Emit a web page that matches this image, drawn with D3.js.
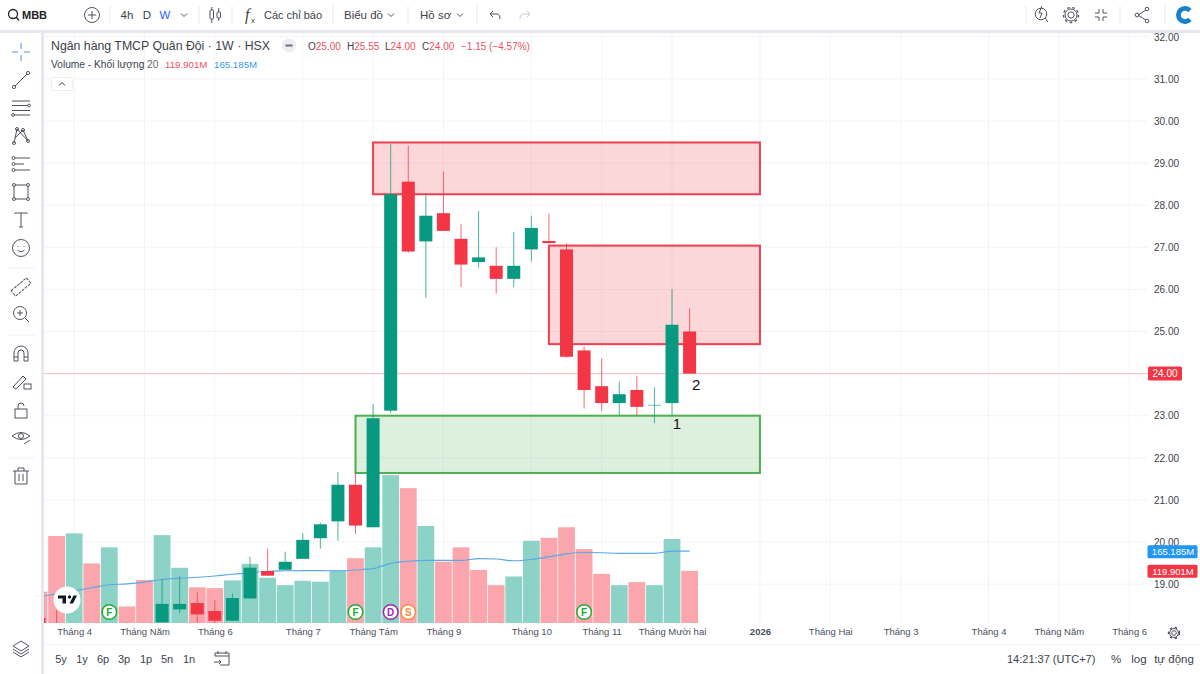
<!DOCTYPE html>
<html><head><meta charset="utf-8">
<script src="https://cdn.jsdelivr.net/npm/d3@7/dist/d3.min.js"></script>
<style>html,body{margin:0;padding:0;background:#fff;overflow:hidden}svg{display:block;font-family:"Liberation Sans",Arial,sans-serif}</style>
</head><body><svg id="c" width="1200" height="674"></svg>
<script>
// ---- data (week index -1 .. 36 ; null = below the visible pane) ----
const weeks  = d3.range(-1,37);
const opens  = [18.2,17.9,null,null,null,null,null,18.09,18.4,18.55,18.36,18.13,18.66,19.31,19.34,19.6,20.09,20.49,21.36,20.35,23.12,28.56,27.14,27.81,27.2,26.65,26.56,26.25,26.95,27.15,26.95,24.55,23.7,23.3,23.61,23.25,23.3,25.0];
const highs  = [18.3,18.38,null,null,null,null,null,19.12,19.2,18.8,18.62,18.78,19.65,19.84,19.77,20.21,20.46,21.66,21.65,23.28,29.45,29.41,28.28,28.8,27.55,27.86,27.0,27.36,27.75,27.8,27.1,24.64,24.36,23.81,23.95,23.67,26.01,25.55];
const lows   = [17.8,17.5,null,null,null,null,null,18.09,18.31,18.09,18.05,18.13,18.66,19.2,19.34,19.6,19.84,20.03,20.19,20.35,23.07,26.87,25.8,27.39,26.05,26.52,25.9,26.05,26.66,27.1,24.38,23.17,23.11,23.01,23.01,22.82,23.01,24.0];
const closes = [17.9,17.6,null,null,null,null,null,18.53,18.53,18.28,18.13,18.67,19.39,19.2,19.53,20.05,20.42,21.36,20.39,22.94,28.26,26.9,27.75,27.39,26.59,26.76,26.25,26.56,27.46,27.1,24.4,23.61,23.3,23.51,23.21,23.26,25.16,24.0];
const volumes= [72,200,206,137,174,38,99,202,127,82,80,98,136,104,87,97,95,120,149,174,340,310,223,141,174,122,87,107,189,196,220,170,113,87,94,87,193,119.9];
const volUp  = [0,0,1,0,1,0,0,1,1,0,0,1,1,1,1,1,1,1,0,1,1,0,1,0,0,0,0,1,1,0,0,0,0,1,0,1,1,0];
const volMA  = [60,67,74,81,88,90,94,100,103,105,108,112,115,119,120,120.5,120.5,120,122,125,137,142,144,144,144,148,147,143,146,152,159,162,161.5,160,160,160,165.185,165.185];
const priceTicks = d3.range(19,33);
const timeTicks  = [1,5,9,14,18,22,27,31,35,40,44,48,53,57,61];
const timeLabels = ["Tháng 4","Tháng Năm","Tháng 6","Tháng 7","Tháng Tám","Tháng 9","Tháng 10","Tháng 11","Tháng Mười hai","2026","Tháng Hai","Tháng 3","Tháng 4","Tháng Năm","Tháng 6"];
const zoneStart = [18,28,17], zoneEnd = [40,40,40], zoneTop = [29.49,27.04,23.0], zoneBottom = [28.26,24.7,21.64], zoneKind = ["r","r","g"];
const eventWeek = [3,17,19,20,30], eventLetter = ["F","F","D","S","F"], eventColor = ["#22ab35","#22ab35","#9c27b0","#ff8a3d","#22ab35"];
const lastClose = 24.0;

const svg = d3.select("#c");
const UP="#089981", DN="#f23645";
const x = d3.scaleLinear().domain([0,36]).range([56.6,689.6]);
const y = d3.scaleLinear().domain([19,32]).range([584.1,36.8]);
const yV= d3.scaleLinear().domain([0,400]).range([623,449]);
const step = x(1)-x(0);

svg.append("defs").append("clipPath").attr("id","pane").append("rect").attr("x",44).attr("y",33).attr("width",1104).attr("height",590);

// grid
const pane = svg.append("g").attr("clip-path","url(#pane)");
pane.selectAll("line.h").data(priceTicks).join("line").attr("x1",44).attr("x2",1148).attr("y1",d=>y(d)).attr("y2",d=>y(d)).attr("stroke","#f3f4f7");
pane.selectAll("line.v").data(timeTicks).join("line").attr("x1",d=>x(d)).attr("x2",d=>x(d)).attr("y1",33).attr("y2",623).attr("stroke","#f3f4f7");

// volume
pane.selectAll("rect.vol").data(weeks).join("rect").attr("x",d=>x(d)-step/2+.4).attr("width",step-.8)
  .attr("y",(d,i)=>yV(volumes[i])).attr("height",(d,i)=>yV(0)-yV(volumes[i]))
  .attr("fill",(d,i)=>volUp[i]?"#8dd2c6":"#fba6ad");
pane.append("path").attr("fill","none").attr("stroke","#5aa9e6").attr("stroke-width",1.1)
  .attr("d",d3.line().x((d,i)=>x(weeks[i])).y(d=>yV(d)).curve(d3.curveMonotoneX)(volMA));

// zones
pane.selectAll("rect.zone").data(zoneStart).join("rect")
  .attr("x",(d,i)=>x(d)).attr("width",(d,i)=>x(zoneEnd[i])-x(d))
  .attr("y",(d,i)=>y(zoneTop[i])).attr("height",(d,i)=>y(zoneBottom[i])-y(zoneTop[i]))
  .attr("fill",(d,i)=>zoneKind[i]=="r"?"rgba(242,54,69,.2)":"rgba(76,175,80,.19)")
  .attr("stroke",(d,i)=>zoneKind[i]=="r"?"#ef3f4e":"#4caf50").attr("stroke-width",2);

// last price line
pane.append("line").attr("x1",44).attr("x2",1148).attr("y1",y(lastClose)).attr("y2",y(lastClose)).attr("stroke","#f7bcc1").attr("stroke-width",1);

// candles
const idx = weeks.map((d,i)=>i).filter(i=>opens[i]!=null);
const col = i=>closes[i]>=opens[i]?UP:DN;
pane.selectAll("line.wick").data(idx).join("line").attr("x1",i=>x(weeks[i])).attr("x2",i=>x(weeks[i]))
  .attr("y1",i=>y(highs[i])).attr("y2",i=>y(lows[i])).attr("stroke",col).attr("stroke-width",1).attr("stroke-opacity",.75);
pane.selectAll("rect.body").data(idx).join("rect").attr("x",i=>x(weeks[i])-6.5).attr("width",13)
  .attr("y",i=>y(Math.max(opens[i],closes[i]))).attr("height",i=>Math.max(1,Math.abs(y(opens[i])-y(closes[i]))))
  .attr("fill",col).attr("fill-opacity",i=>weeks[i]==34?.6:1);

// event markers
const ev = svg.append("g").selectAll("g").data(eventWeek).join("g").attr("transform",d=>`translate(${x(d)},612)`);
ev.append("circle").attr("r",7.3).attr("fill","#fff").attr("stroke",(d,i)=>eventColor[i]).attr("stroke-width",1.5);
ev.append("text").attr("y",3.6).attr("text-anchor","middle").attr("font-size",10).attr("font-weight",700).attr("fill",(d,i)=>eventColor[i]).text((d,i)=>eventLetter[i]);

// TV logo
const tv = svg.append("g").attr("transform","translate(67,600)");
tv.append("circle").attr("r",13.5).attr("fill","#fff");
tv.append("path").attr("fill","#131722").attr("d","M-9,-4.5H-1V3.5H-4.5V-1.5H-9ZM2.5,3.5L6.5,-4.5H10L6,3.5Z");
tv.append("circle").attr("cx",2.5).attr("cy",-3).attr("r",1.7).attr("fill","#131722");

// annotations
svg.append("text").attr("x",x(35)+5).attr("y",429).attr("font-size",15).attr("fill","#111").attr("text-anchor","middle").text("1");
svg.append("text").attr("x",x(36)+6.5).attr("y",390).attr("font-size",15).attr("fill","#111").attr("text-anchor","middle").text("2");

// axes
const axR = d3.axisRight(y).tickValues(priceTicks).tickFormat(d3.format(".2f")).tickSize(0).tickPadding(0);
const gR = svg.append("g").attr("transform","translate(1154,0)").call(axR);
gR.select(".domain").remove();
gR.selectAll("text").attr("font-size",10).attr("font-family","Liberation Sans").attr("fill","#3a3f4b");
const axB = d3.axisBottom(x).tickValues(timeTicks).tickFormat((d,i)=>timeLabels[i]).tickSize(0).tickPadding(0);
const gB = svg.append("g").attr("transform","translate(0,628)").call(axB);
gB.select(".domain").remove();
gB.selectAll("text").attr("font-size",9.5).attr("font-family","Liberation Sans").attr("fill","#4a4f5c")
  .attr("font-weight",d=>d==40?700:400);

// price labels
function tag(yy,txt,fill){
  svg.append("rect").attr("x",1147.5).attr("y",yy-6).attr("width",50).attr("height",13).attr("rx",1.5).attr("fill",fill);
  svg.append("text").attr("x",1173).attr("y",yy+3.7).attr("text-anchor","middle").attr("font-size",9.5).attr("fill","#fff").text(txt);
}
tag(yV(volMA[37]),"165.185M","#2196f3");
tag(yV(volumes[37]),"119.901M","#f23645");
svg.append("rect").attr("x",1148).attr("y",y(lastClose)-7).attr("width",34).attr("height",14).attr("rx",1.5).attr("fill","#f23645");
svg.append("text").attr("x",1165).attr("y",y(lastClose)+3.7).attr("text-anchor","middle").attr("font-size",10).attr("fill","#fff").text(d3.format(".2f")(lastClose));

// frame
svg.append("rect").attr("x",0).attr("y",30).attr("width",1200).attr("height",3).attr("fill","#e6e8f1");
svg.append("rect").attr("x",41).attr("y",33).attr("width",3).attr("height",641).attr("fill","#e6e8f1");
svg.append("line").attr("x1",44).attr("x2",1200).attr("y1",644.5).attr("y2",644.5).attr("stroke","#f4f5f8");

// text helpers
function T(tx,ty,s,o={}){const t=svg.append("text").attr("x",tx).attr("y",ty).attr("font-size",o.fs||11.5).attr("fill",o.c||"#3b3f4a").attr("text-anchor",o.a||"start").text(s);
  if(o.w)t.attr("font-weight",o.w); return t;}
const ic=(tx,ty)=>svg.append("g").attr("transform",`translate(${tx},${ty})`).attr("fill","none").attr("stroke","#50535e").attr("stroke-width",1);
const sep=(sx)=>svg.append("line").attr("x1",sx).attr("x2",sx).attr("y1",6).attr("y2",24).attr("stroke","#e8e9ee");

// top bar
T(22,19,"MBB",{fs:11,w:700,c:"#222"});
ic(13,14).call(g=>{g.append("circle").attr("r",4.5).attr("stroke","#222").attr("stroke-width",1.3);g.append("path").attr("d","M3,3L6,6.5").attr("stroke","#222").attr("stroke-width",1.3)});
ic(92,15).call(g=>{g.append("circle").attr("r",7.5);g.append("path").attr("d","M-4,0H4M0,-4V4")});
[110,199,232,333,408,477,1026,1120,1165].forEach(sep);
T(127,19,"4h",{a:"middle"});T(147,19,"D",{a:"middle"});T(165,19,"W",{a:"middle",c:"#2962ff"});
const chev=(cx,cy)=>ic(cx,cy).append("path").attr("d","M-3,-1.5L0,1.5L3,-1.5");
chev(184,15);chev(391,15);chev(460,15);
ic(215,15).call(g=>{g.append("rect").attr("x",-5).attr("y",-5).attr("width",3.5).attr("height",9).attr("rx",1);g.append("rect").attr("x",2).attr("y",-3).attr("width",3.5).attr("height",6).attr("rx",1);g.append("path").attr("d","M-3.2,-8V-5M-3.2,4V8M3.7,-7V-3M3.7,3V6")});
T(245,20,"f",{fs:16,w:400}).attr("font-family","Liberation Serif").attr("font-style","italic");T(251,23,"x",{fs:8});
T(264,19,"Các chỉ báo",{fs:11});T(344,19,"Biểu đồ");T(420,19,"Hồ sơ");
ic(495,15).call(g=>g.append("path").attr("d","M-5,-1L-2,-4M-5,-1L-2,2M-5,-1H2Q5,-1 5,4"));
ic(525,15).call(g=>g.append("path").attr("stroke","#c8cad0").attr("d","M5,-1L2,-4M5,-1L2,2M5,-1H-2Q-5,-1 -5,4"));
ic(1041,14).call(g=>{g.append("circle").attr("r",5.8);g.append("path").attr("d","M4,4L7,8M1,-8L-2,-1H1L-1,4");});
const gear=(cx,cy,r)=>ic(cx,cy).call(g=>{g.append("circle").attr("r",r*0.42);g.append("circle").attr("r",r*0.8);g.append("circle").attr("r",r).attr("stroke-dasharray","2.6 2.6").attr("stroke-width",1.4);});
gear(1071,15,7.5);
ic(1101,15).append("path").attr("d","M-6,-2H-2V-6M2,-6V-2H6M-6,2H-2V6M2,6V2H6");
ic(1142,15).call(g=>{g.append("path").attr("d","M-4,0L4,-5M-4,0L4,5");g.append("circle").attr("cx",-5).attr("r",1.8).attr("fill","#fff");g.append("circle").attr("cx",5).attr("cy",-6).attr("r",1.8).attr("fill","#fff");g.append("circle").attr("cx",5).attr("cy",6).attr("r",1.8).attr("fill","#fff");});
svg.append("path").attr("d",d3.arc()({innerRadius:4.2,outerRadius:9,startAngle:2.3,endAngle:7.1})).attr("transform","translate(1185,15)").attr("fill","#1581c6");

// legend
T(51,49.5,"Ngân hàng TMCP Quân Đội · 1W · HSX",{fs:12.3,c:"#3c4049"});
svg.append("circle").attr("cx",289).attr("cy",45.5).attr("r",7).attr("fill","#eceef2");
svg.append("rect").attr("x",285.5).attr("y",44.5).attr("width",7).attr("height",2).attr("fill","#6a6e78");
const ohlcRed="#f0505e";
[["O","25.00",308],["H","25.55",347],["L","24.00",385],["C","24.00",422]].forEach(d=>{
  const t=T(d[2],49.5,"",{fs:10});t.append("tspan").attr("fill","#3b3f4a").text(d[0]);t.append("tspan").attr("fill",ohlcRed).text(d[1]);});
T(461,49.5,"−1.15 (−4.57%)",{fs:10,c:ohlcRed});
T(51,68,"Volume - Khối lượng",{fs:10.2});T(147,68,"20",{fs:10.2,c:"#666"});
T(165,68,"119.901M",{fs:9.7,c:ohlcRed});T(214,68,"165.185M",{fs:9.7,c:"#2f9bef"});
svg.append("rect").attr("x",51.5).attr("y",77.5).attr("width",21).attr("height",13).attr("rx",2).attr("fill","#fff").attr("stroke","#eceef2");
ic(62,84).append("path").attr("d","M-3,1.5L0,-1.5L3,1.5").attr("stroke","#333");

// left toolbar
const k=21;
ic(k,52).attr("stroke","#5b8fe0").append("path").attr("d","M-9,0H-3M3,0H9M0,-9V-3M0,3V9");
ic(k,80).call(g=>{g.append("path").attr("d","M-6,6L6,-6");g.append("circle").attr("cx",-7).attr("cy",7).attr("r",1.6);g.append("circle").attr("cx",7).attr("cy",-7).attr("r",1.6)});
ic(k,108).call(g=>{g.append("path").attr("d","M-9,-7H9M-9,-2.5H7M-9,2.5H9M-7,7H9");g.append("circle").attr("cx",8).attr("cy",-2.5).attr("r",1.4);g.append("circle").attr("cx",-8).attr("cy",7).attr("r",1.4)});
ic(k,136).call(g=>{g.append("path").attr("d","M-7,7L-4,-7L7,5L2,-6L-6,2");[[-7,7],[-4,-7],[7,5],[2,-6]].forEach(p=>g.append("circle").attr("cx",p[0]).attr("cy",p[1]).attr("r",1.5))});
ic(k,164).call(g=>{g.append("path").attr("d","M-6,-6H9M-6,6H9M-6,0H3");g.append("circle").attr("cx",-7.5).attr("cy",-6).attr("r",1.5);g.append("circle").attr("cx",-7.5).attr("cy",6).attr("r",1.5);g.append("circle").attr("cx",-7.5).attr("cy",0).attr("r",1.5)});
ic(k,192).call(g=>{g.append("rect").attr("x",-7).attr("y",-7).attr("width",14).attr("height",14);[[-7,-7],[7,-7],[-7,7],[7,7]].forEach(p=>g.append("circle").attr("cx",p[0]).attr("cy",p[1]).attr("r",1.5).attr("fill","#fff"))});
ic(k,220).append("path").attr("d","M-6,-6V-7H6V-6M0,-7V7M-2,7H2");
ic(k,248).call(g=>{g.append("circle").attr("r",8.5);g.append("path").attr("d","M-3.5,2Q0,5.5 3.5,2M-3,-2V-1M3,-2V-1")});
[268,335,458].forEach(s=>svg.append("line").attr("x1",8).attr("x2",34).attr("y1",s).attr("y2",s).attr("stroke","#eceef2"));
ic(k,287).call(g=>g.append("rect").attr("x",-10).attr("y",-3.5).attr("width",20).attr("height",7).attr("transform","rotate(-40)").attr("stroke-dasharray","3 1"));
ic(k,314).call(g=>{g.append("circle").attr("cx",-1).attr("cy",-1).attr("r",6.5);g.append("path").attr("d","M-4,-1H2M-1,-4V2M4,4L8,8")});
ic(k,353).append("path").attr("d","M-7,8V0A7,7 0 0 1 7,0V8H3V0A3,3 0 0 0 -3,0V8ZM-7,4H-3M3,4H7");
ic(k,381).call(g=>{g.append("path").attr("d","M-8,6L2,-5L5,-2L-5,8Z");g.append("rect").attr("x",3).attr("y",3).attr("width",7).attr("height",5)});
ic(k,410).call(g=>{g.append("rect").attr("x",-6).attr("y",-1).attr("width",12).attr("height",9);g.append("path").attr("d","M-3,-1V-4A3,3 0 0 1 3,-4")});
ic(k,437).call(g=>{g.append("path").attr("d","M-9,-1Q0,-8 9,-1Q0,6 -9,-1Z");g.append("circle").attr("cy",-1).attr("r",2.5);g.append("path").attr("d","M3,7L9,3")});
ic(k,476).call(g=>g.append("path").attr("d","M-8,-5H8M-3,-5V-8H3V-5M-6,-5V8H6V-5M-2,-2V5M2,-2V5"));
ic(k,648).call(g=>{g.append("path").attr("d","M0,-7L8,-2L0,3L-8,-2Z");g.append("path").attr("d","M-8,1L0,6L8,1M-8,4L0,9L8,4")});

// time axis gear + bottom bar
gear(1174,633,5.5);
[["5y",61],["1y",82],["6p",103],["3p",124],["1p",146],["5n",167],["1n",189]].forEach(d=>T(d[1],663,d[0],{a:"middle",fs:11}));
ic(222,659).call(g=>{g.append("path").attr("d","M-7,-3V-6H7V6H-2M-7,-3H7M-4,-8V-5M4,-8V-5M-8,3H-1M-3,1L-1,3L-3,5")});
T(1007,663,"14:21:37 (UTC+7)",{fs:11});
T(1116,663,"%",{a:"middle",fs:11.5});T(1139,663,"log",{a:"middle",fs:11.5});T(1174,663,"tự động",{a:"middle",fs:11.5});
</script></body></html>
